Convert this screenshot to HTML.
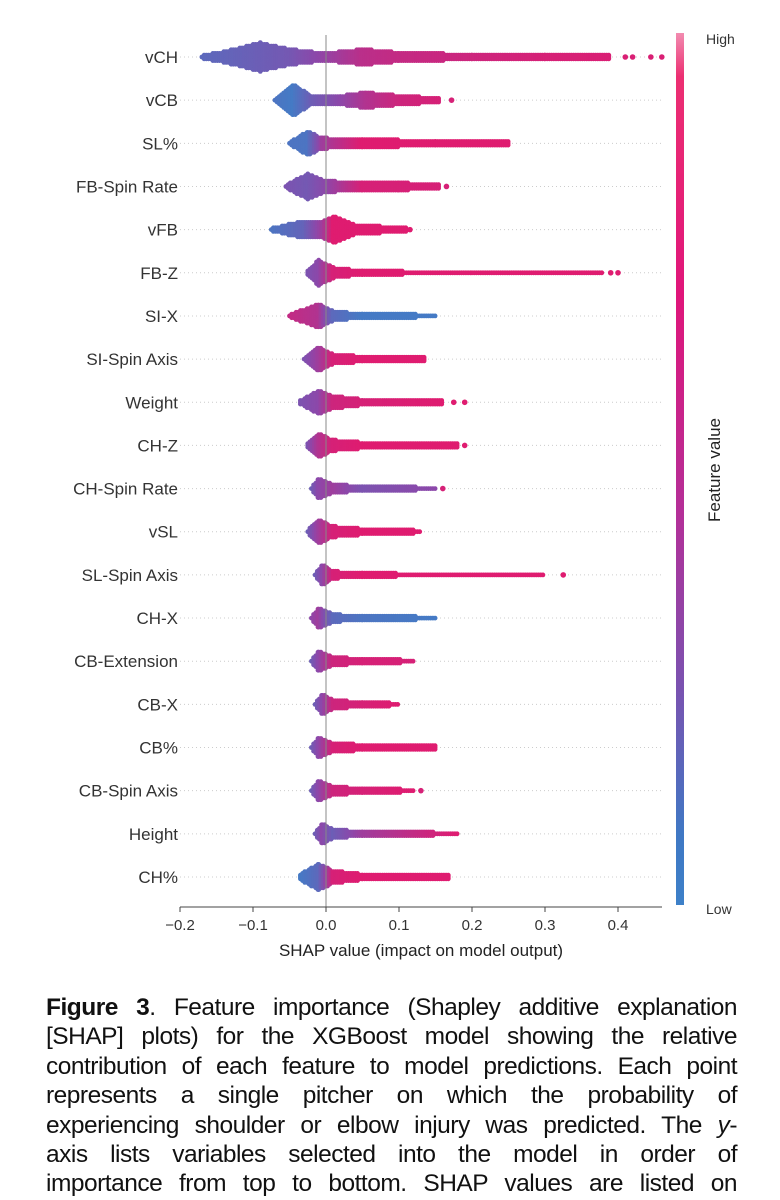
<!DOCTYPE html>
<html><head><meta charset="utf-8">
<style>
body{margin:0;background:#fff;width:780px;height:1200px;overflow:hidden;font-family:"Liberation Sans",sans-serif;}
#chart{position:absolute;left:0;top:0;}
#caption{position:absolute;left:46px;top:993px;width:691px;font-size:24.5px;line-height:29.4px;color:#111;letter-spacing:-0.5px;}
#caption div{text-align:justify;text-align-last:justify;white-space:nowrap;}
</style></head><body>
<svg id="chart" width="780" height="990" xmlns="http://www.w3.org/2000/svg">
<defs><linearGradient id="cb" x1="0" y1="0" x2="0" y2="1">
<stop offset="0" stop-color="#f28bb0"/><stop offset="0.05" stop-color="#ec2f72"/><stop offset="0.3" stop-color="#e0157a"/>
<stop offset="0.55" stop-color="#b42f98"/><stop offset="0.75" stop-color="#7a52b0"/><stop offset="0.92" stop-color="#3f78c4"/><stop offset="1" stop-color="#3d80c8"/></linearGradient></defs>
<g id="grid"></g><g id="dots"></g><g id="axes"></g>
<rect x="676" y="33" width="8" height="872" fill="url(#cb)"/>
<text x="706" y="44" font-size="14" fill="#333">High</text>
<text x="706" y="914" font-size="14" fill="#333">Low</text>
<text transform="translate(720,470) rotate(-90)" text-anchor="middle" font-size="17" fill="#222">Feature value</text>
<text x="421" y="956" text-anchor="middle" font-size="17" fill="#222">SHAP value (impact on model output)</text>
</svg>
<div id="caption">
<div><b>Figure 3</b>. Feature importance (Shapley additive explanation</div>
<div>[SHAP] plots) for the XGBoost model showing the relative</div>
<div>contribution of each feature to model predictions. Each point</div>
<div>represents a single pitcher on which the probability of</div>
<div>experiencing shoulder or elbow injury was predicted. The <i>y</i>-</div>
<div>axis lists variables selected into the model in order of</div>
<div>importance from top to bottom. SHAP values are listed on</div>
</div>
<script>
const features=["vCH","vCB","SL%","FB-Spin Rate","vFB","FB-Z","SI-X","SI-Spin Axis","Weight","CH-Z","CH-Spin Rate","vSL","SL-Spin Axis","CH-X","CB-Extension","CB-X","CB%","CB-Spin Axis","Height","CH%"];
const xTicks=[-0.2,-0.1,0.0,0.1,0.2,0.3,0.4];
// per feature: shap knots, relative density at knots, feature value (0 low .. 1 high) at knots
const knots=[
[-0.17,-0.13,-0.09,-0.05,0.0,0.05,0.1,0.2,0.3,0.39],
[-0.07,-0.045,-0.02,0.02,0.055,0.1,0.155],
[-0.05,-0.025,-0.005,0.05,0.15,0.25],
[-0.055,-0.025,0.0,0.05,0.1,0.155],
[-0.075,-0.03,-0.005,0.01,0.04,0.11],
[-0.025,-0.01,0.01,0.05,0.2,0.38],
[-0.05,-0.01,0.01,0.05,0.15],
[-0.03,-0.01,0.01,0.05,0.135],
[-0.035,-0.01,0.01,0.05,0.16],
[-0.025,-0.01,0.01,0.05,0.18],
[-0.02,-0.01,0.01,0.05,0.15],
[-0.025,-0.01,0.01,0.05,0.13],
[-0.015,-0.005,0.01,0.05,0.3],
[-0.02,-0.01,0.01,0.05,0.15],
[-0.02,-0.01,0.01,0.05,0.12],
[-0.015,-0.005,0.01,0.05,0.1],
[-0.02,-0.01,0.01,0.05,0.15],
[-0.02,-0.01,0.01,0.05,0.12],
[-0.015,-0.005,0.01,0.05,0.18],
[-0.035,-0.01,0.01,0.05,0.17]];
const density=[
[0.1,0.45,0.9,0.5,0.25,0.5,0.3,0.18,0.15,0.12],
[0.1,1.0,0.3,0.3,0.5,0.3,0.15],
[0.1,0.75,0.35,0.25,0.2,0.15],
[0.1,0.8,0.35,0.3,0.25,0.15],
[0.1,0.55,0.5,0.85,0.3,0.15],
[0.2,0.8,0.35,0.12,0.1,0.08],
[0.1,0.75,0.3,0.15,0.1],
[0.1,0.75,0.3,0.2,0.12],
[0.15,0.75,0.4,0.2,0.12],
[0.15,0.75,0.35,0.2,0.12],
[0.1,0.65,0.3,0.15,0.1],
[0.1,0.75,0.35,0.2,0.1],
[0.1,0.65,0.25,0.12,0.08],
[0.1,0.65,0.25,0.15,0.1],
[0.1,0.65,0.3,0.15,0.1],
[0.1,0.65,0.3,0.15,0.1],
[0.1,0.65,0.3,0.2,0.12],
[0.1,0.65,0.3,0.15,0.1],
[0.1,0.65,0.3,0.15,0.1],
[0.2,0.85,0.4,0.2,0.12]];
const featVal=[
[0.2,0.25,0.3,0.35,0.55,0.75,0.8,0.85,0.9,0.92],
[0.1,0.05,0.3,0.5,0.7,0.85,0.9],
[0.1,0.1,0.6,0.95,0.95,0.95],
[0.4,0.35,0.5,0.9,0.9,0.9],
[0.1,0.25,0.6,0.95,0.95,0.95],
[0.4,0.5,0.9,0.95,0.95,0.95],
[0.8,0.7,0.2,0.05,0.05],
[0.4,0.6,0.9,0.95,0.95],
[0.4,0.5,0.85,0.9,0.95],
[0.4,0.7,0.9,0.95,0.95],
[0.3,0.5,0.6,0.4,0.5],
[0.3,0.6,0.9,0.95,0.95],
[0.3,0.5,0.9,0.95,0.95],
[0.5,0.6,0.2,0.1,0.05],
[0.3,0.5,0.85,0.9,0.9],
[0.3,0.5,0.85,0.9,0.95],
[0.3,0.5,0.9,0.95,0.95],
[0.3,0.5,0.85,0.9,0.95],
[0.3,0.5,0.3,0.6,0.95],
[0.05,0.2,0.9,0.95,0.95]];
const outliers=[[0.41,0.42,0.445,0.46],[0.172],[],[0.165],[0.115],[0.39,0.40],[],[],[0.175,0.19],[0.19],[0.16],[],[0.325],[],[],[],[],[0.13],[],[]];
const outlierVal=[[0.92,0.92,0.92,0.92],[0.9],[],[0.9],[0.95],[0.95,0.95],[],[],[0.95,0.95],[0.95],[0.9],[],[0.95],[],[],[],[],[0.9],[],[]];

const NS="http://www.w3.org/2000/svg";
const X0=326,XS=730,Y0=57,YS=(877-57)/19;
const xs=v=>X0+v*XS, ys=i=>Y0+i*YS;
function col(t){const st=[[0,[61,128,200]],[0.5,[140,72,170]],[1,[232,23,106]]];
 let a=st[0],b=st[2];if(t<=0.5)b=st[1];else a=st[1];
 const f=(t-a[0])/(b[0]-a[0]);return "rgb("+a[1].map((c,k)=>Math.round(c+(b[1][k]-c)*f)).join(",")+")";}
function mk(tag,at,parent){const e=document.createElementNS(NS,tag);for(const k in at)e.setAttribute(k,at[k]);parent.appendChild(e);return e;}
const grid=document.getElementById('grid'),dots=document.getElementById('dots'),axes=document.getElementById('axes');
features.forEach((f,i)=>{
 const y=ys(i);
 const g=mk('line',{x1:180,x2:662,y1:y,y2:y,stroke:'#ccc','stroke-dasharray':'1 3','stroke-width':1},grid);
 
 
 const t=mk('text',{x:178,y:y+6,'text-anchor':'end','font-size':17,fill:'#333'},axes);
 t.textContent=f;
 
 
 const row=mk('g',{},dots);
 
 
 const K=knots[i],D=density[i],C=featVal[i];
 for(let k=0;k<K.length-1;k++){
  const px0=xs(K[k]),px1=xs(K[k+1]);
  for(let px=px0;px<px1;px+=2.2){
   const f2=(px-px0)/(px1-px0);
   const d=D[k]+(D[k+1]-D[k])*f2, c=C[k]+(C[k+1]-C[k])*f2;
   const h=d*16, n=Math.max(0,Math.floor(h/1.8));
   const cc=col(c);
   for(let j=-n;j<=n;j++){
    mk('circle',{cx:px.toFixed(1),cy:(y+j*1.8).toFixed(1),r:2.4,fill:cc},row);
   }
  }
 }
 outliers[i].forEach((v,j)=>{const o=mk('circle',{cx:xs(v),cy:y,r:2.8,fill:col(outlierVal[i][j])},row);
  
  });
});
const zl=mk('line',{x1:X0,x2:X0,y1:35,y2:907,stroke:'#888','stroke-width':1},axes);


const ax=mk('line',{x1:180,x2:662,y1:907,y2:907,stroke:'#444','stroke-width':1},axes);


xTicks.forEach(v=>{
 const tk=mk('line',{x1:xs(v),x2:xs(v),y1:907,y2:912,stroke:'#444'},axes);
 
 
 const tl=mk('text',{x:xs(v),y:930,'text-anchor':'middle','font-size':15,fill:'#333'},axes);
 tl.textContent=(v<0?'\u2212':'')+Math.abs(v).toFixed(1);
 
 
});
</script>
</body></html>
